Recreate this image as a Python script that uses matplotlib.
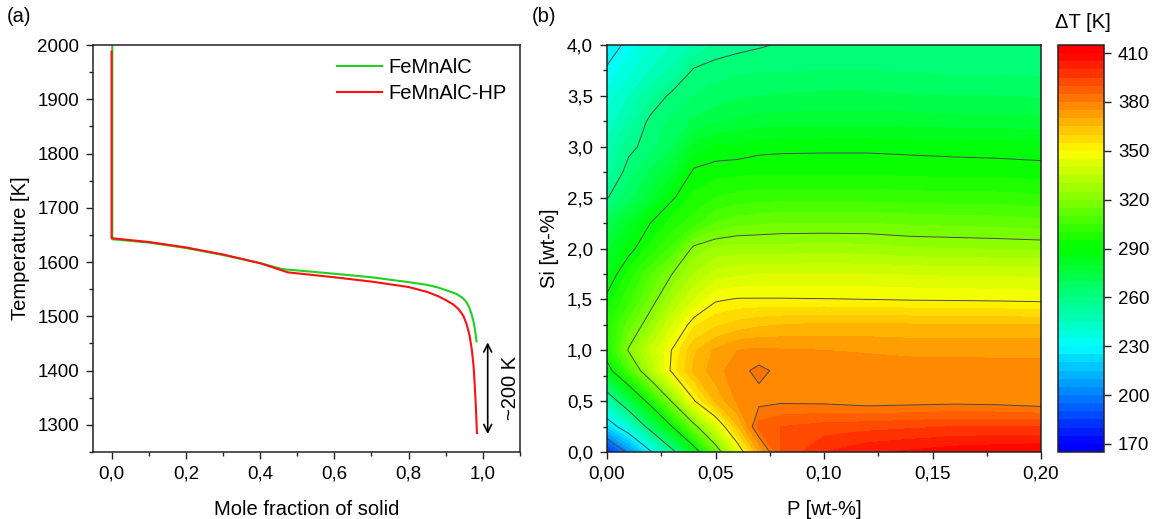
import numpy as np
import matplotlib
matplotlib.use("Agg")
import matplotlib.pyplot as plt
from matplotlib.colors import LinearSegmentedColormap, Normalize
from matplotlib.ticker import MultipleLocator

plt.rcParams['font.family'] = ['Liberation Sans', 'DejaVu Sans']

# ---------------- Panel (a) data ----------------
frac_femnalc = [0.002, 0.002, 0.1, 0.2, 0.3, 0.4, 0.46, 0.6, 0.7, 0.8, 0.85, 0.88, 0.91, 0.93,
                0.945, 0.955, 0.963, 0.97, 0.976, 0.98, 0.983]
temp_femnalc = [2000, 1642, 1636, 1626, 1613, 1598, 1587, 1578.5, 1572, 1563, 1558, 1553, 1546, 1541,
                1534, 1527, 1517, 1503, 1487, 1470, 1454]

frac_femnalc_hp = [0.0, 0.0, 0.1, 0.2, 0.3, 0.4, 0.475, 0.6, 0.7, 0.8, 0.85, 0.88, 0.9, 0.92, 0.935,
                   0.948, 0.957, 0.964, 0.970, 0.975, 0.978, 0.981, 0.984]
temp_femnalc_hp = [1988, 1644, 1637, 1627, 1614, 1598, 1581, 1572, 1564, 1554, 1545, 1537, 1530, 1522, 1513,
                   1500, 1484, 1465, 1440, 1408, 1375, 1335, 1285]

series_labels = ["FeMnAlC", "FeMnAlC-HP"]
a_xticks = [0.0, 0.2, 0.4, 0.6, 0.8, 1.0]
a_xticklabels = ["0,0", "0,2", "0,4", "0,6", "0,8", "1,0"]
a_yticks = [1300, 1400, 1500, 1600, 1700, 1800, 1900, 2000]
arrow_x = 1.013
arrow_top_T = 1452
arrow_bottom_T = 1283
arrow_label = "~200 K"

# ---------------- Panel (b) data ----------------
p_wt = [0.0, 0.01, 0.02, 0.03, 0.04, 0.05, 0.06, 0.07, 0.08, 0.10, 0.12, 0.14, 0.16, 0.18, 0.20]
si_wt = [0.0, 0.25, 0.5, 0.8, 1.0, 1.25, 1.5, 1.75, 2.0, 2.25, 2.5, 2.75, 3.0, 3.25, 3.5, 3.75, 4.0]

dT_si_000 = [178, 203, 228, 256, 282, 312, 342, 370, 390, 400, 404, 406, 408, 409, 410]
dT_si_025 = [221, 240, 266, 290, 316, 340, 364, 387, 390, 392, 393, 394, 395, 395, 395]
dT_si_050 = [249, 272, 295, 321, 349, 366, 376, 378, 379, 378.5, 377, 377.5, 378, 377.5, 376]
dT_si_080 = [285, 307, 331, 352, 366, 373, 378, 381.5, 378.5, 378, 377.5, 377, 377, 376.5, 376.5]
dT_si_100 = [296, 321, 336, 350.5, 364, 371, 375, 376, 375.5, 375, 374.5, 374, 374, 374, 374]
dT_si_125 = [298, 312, 325, 340, 354, 359, 362, 364, 365, 366, 366, 365.5, 365, 365, 365]
dT_si_150 = [292, 303, 316, 329, 340, 349, 350.5, 350.5, 350.5, 350.3, 350, 349.5, 349.3, 349, 348.5]
dT_si_175 = [284, 297, 309, 320, 330, 337, 339, 340, 340, 340, 340, 339.5, 339, 339, 338.5]
dT_si_200 = [279, 287, 297, 306, 322, 326, 327, 327, 327, 327.5, 327, 325.5, 325, 324.5, 324]
dT_si_225 = [271, 280, 290, 297, 303, 310, 313, 314, 315, 315, 315, 314, 313.5, 313, 312]
dT_si_250 = [259.5, 268, 278, 289, 296, 300, 302, 303, 303, 303, 303, 302.5, 302, 302, 301]
dT_si_275 = [252, 263, 271, 279, 291.5, 293, 293.5, 294, 294, 294, 294, 293.5, 293, 293, 292.5]
dT_si_300 = [247, 258, 263, 270, 282, 286, 286.5, 288, 288.5, 288.7, 288.7, 288.3, 288, 287.5, 287]
dT_si_325 = [242, 251, 262, 266, 271, 274, 276, 277, 277.5, 278, 278, 277.5, 277, 277, 276.5]
dT_si_350 = [237, 245, 254, 262, 265, 267, 269, 270, 270.5, 271, 271, 270.5, 270, 270, 269.5]
dT_si_375 = [231, 238, 245, 251, 261, 263, 264, 264.5, 264.5, 265, 265, 264.5, 264, 264, 263.5]
dT_si_400 = [226, 232, 240, 245, 250, 256, 258, 259.3, 260.5, 261, 261, 260.5, 260.5, 260.3, 260.3]

b_xticks = [0.0, 0.05, 0.10, 0.15, 0.20]
b_xticklabels = ["0,00", "0,05", "0,10", "0,15", "0,20"]
b_yticks = [0.0, 0.5, 1.0, 1.5, 2.0, 2.5, 3.0, 3.5, 4.0]
b_yticklabels = ["0,0", "0,5", "1,0", "1,5", "2,0", "2,5", "3,0", "3,5", "4,0"]
cbar_ticks = [170, 200, 230, 260, 290, 320, 350, 380, 410]
line_levels = [200, 230, 260, 290, 320, 350, 380]

# ---------------- Figure ----------------
W, H = 1161, 519
fig = plt.figure(figsize=(W / 100, H / 100), dpi=100)

def px_axes(left, top, right, bottom):
    return fig.add_axes([left / W, 1 - bottom / H, (right - left) / W, (bottom - top) / H])

TICK_FS = 13.5
LAB_FS = 14.5

def style_axes(ax):
    for s in ax.spines.values():
        s.set_linewidth(1.1)
        s.set_color("#222222")
    ax.tick_params(which="major", direction="out", length=5, width=1.0, labelsize=TICK_FS,
                   top=False, right=False, pad=5, color="#222222")
    ax.tick_params(which="minor", direction="out", length=3, width=1.0, top=False, right=False,
                   color="#222222")

# Panel (a)
ax1 = px_axes(93, 45, 520, 452)
ax1.plot(frac_femnalc, temp_femnalc, color="#1ed21e", lw=1.5, label=series_labels[0])
ax1.plot(frac_femnalc_hp, temp_femnalc_hp, color="#ff1010", lw=1.5, label=series_labels[1])
ax1.set_xlim(-0.05, 1.1)
ax1.set_ylim(1250, 2000)
ax1.set_xticks(a_xticks)
ax1.set_xticklabels(a_xticklabels)
ax1.set_yticks(a_yticks)
ax1.xaxis.set_minor_locator(MultipleLocator(0.1))
ax1.yaxis.set_minor_locator(MultipleLocator(50))
style_axes(ax1)
ax1.set_xlabel("Mole fraction of solid", fontsize=LAB_FS, labelpad=12)
ax1.set_ylabel("Temperature [K]", fontsize=LAB_FS, labelpad=5)
ax1.annotate("", xy=(arrow_x, arrow_bottom_T), xytext=(arrow_x, arrow_top_T),
             arrowprops=dict(arrowstyle="<->", lw=1.2, color="black", mutation_scale=14,
                             shrinkA=0, shrinkB=0))
ax1.text(1.075, (arrow_top_T + arrow_bottom_T) / 2, arrow_label, rotation=90,
         ha="center", va="center", fontsize=LAB_FS)
leg = ax1.legend(loc="upper right", frameon=False, fontsize=LAB_FS, handlelength=2.2,
                 handletextpad=0.35, labelspacing=0.35, borderaxespad=0.25)
fig.text(7 / W, 1 - 16 / H, "(a)", fontsize=LAB_FS, ha="left", va="center")

# Panel (b)
ax2 = px_axes(607, 45, 1041, 452)
dT = np.array([dT_si_000, dT_si_025, dT_si_050, dT_si_080, dT_si_100, dT_si_125, dT_si_150,
               dT_si_175, dT_si_200, dT_si_225, dT_si_250, dT_si_275, dT_si_300, dT_si_325,
               dT_si_350, dT_si_375, dT_si_400])
vmin, vmax = 165, 415
stops = [(165, "#0000ff"), (170, "#0000ff"), (230, "#00ffff"), (290, "#00ff00"),
         (350, "#ffff00"), (410, "#ff0000"), (415, "#ff0000")]
cmap = LinearSegmentedColormap.from_list(
    "origin_rainbow", [((t - vmin) / (vmax - vmin), c) for t, c in stops])
norm = Normalize(vmin, vmax)
fill_levels = np.arange(vmin, vmax + 1, 5)
cf = ax2.contourf(p_wt, si_wt, dT, levels=fill_levels, cmap=cmap, norm=norm)
ax2.contourf(p_wt, si_wt, dT, levels=fill_levels, cmap=cmap, norm=norm)
ax2.contour(p_wt, si_wt, dT, levels=line_levels, colors="#4a4a4a", linewidths=0.7)
ax2.set_xlim(0, 0.2)
ax2.set_ylim(0, 4)
ax2.set_xticks(b_xticks)
ax2.set_xticklabels(b_xticklabels)
ax2.set_yticks(b_yticks)
ax2.set_yticklabels(b_yticklabels)
ax2.xaxis.set_minor_locator(MultipleLocator(0.025))
ax2.yaxis.set_minor_locator(MultipleLocator(0.25))
style_axes(ax2)
ax2.set_xlabel("P [wt-%]", fontsize=LAB_FS, labelpad=12)
ax2.set_ylabel("Si [wt-%]", fontsize=LAB_FS, labelpad=6)
fig.text(532 / W, 1 - 16 / H, "(b)", fontsize=LAB_FS, ha="left", va="center")

# Colorbar
cax = px_axes(1058, 45, 1104, 452)
cb = fig.colorbar(cf, cax=cax, ticks=cbar_ticks)
cb.outline.set_linewidth(1.1)
cb.outline.set_edgecolor("#222222")
cax.tick_params(direction="out", length=5, width=1.0, labelsize=TICK_FS, pad=5, color="#222222")
cax.minorticks_off()
fig.text(1083 / W, 1 - 23 / H, "ΔT [K]", fontsize=LAB_FS, ha="center", va="center")

fig.savefig("out.png", dpi=100)
